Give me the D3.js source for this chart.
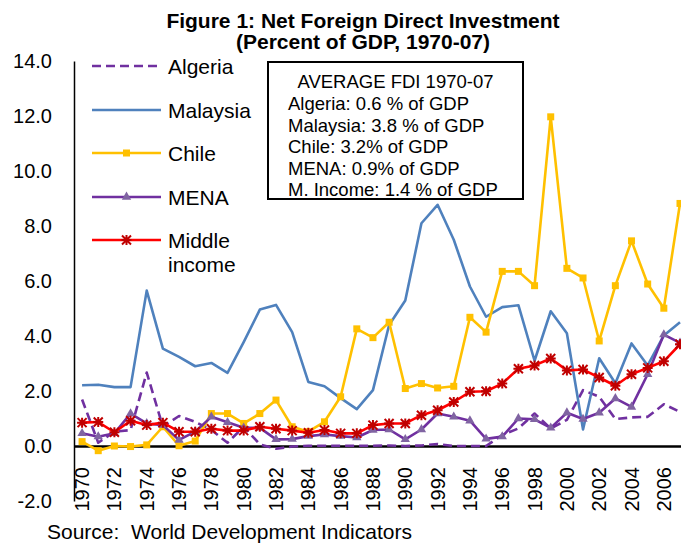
<!DOCTYPE html>
<html>
<head>
<meta charset="utf-8">
<script src="https://cdn.jsdelivr.net/npm/d3@7"></script>
<style>
  body { margin: 0; background: #fff; overflow: hidden; }
  svg { font-family: "Liberation Sans", Arial, sans-serif; }
  text { white-space: pre; }
</style>
</head>
<body>
<div id="chart"></div>
<script>
// data (% of GDP)
const years = d3.range(1970, 2008);
const algeria = [1.69, 0.12, 0.52, 0.58, 2.67, 0.70, 1.09, 0.88, 0.58, 0.12, 0.70, 0.06, -0.10, -0.02, 0.01, 0.01, 0.01, 0.01, 0.01, 0.02, 0.00, 0.02, 0.07, 0.00, 0.00, 0.00, 0.40, 0.64, 1.18, 0.64, 0.95, 2.03, 1.79, 0.98, 1.04, 1.06, 1.52, 1.24];
const malaysia = [2.21, 2.23, 2.14, 2.14, 5.65, 3.54, 3.24, 2.90, 3.02, 2.66, 3.78, 4.96, 5.13, 4.14, 2.33, 2.17, 1.74, 1.34, 2.03, 4.40, 5.29, 8.10, 8.77, 7.50, 5.80, 4.70, 5.05, 5.12, 3.10, 4.90, 4.10, 0.60, 3.19, 2.28, 3.73, 2.93, 4.02, 4.50];
const chile = [0.16, -0.17, 0.00, -0.02, 0.04, 0.70, 0.01, 0.18, 1.18, 1.18, 0.82, 1.18, 1.67, 0.70, 0.52, 0.88, 1.79, 4.26, 3.94, 4.50, 2.09, 2.27, 2.11, 2.17, 4.68, 4.14, 6.35, 6.35, 5.83, 11.97, 6.46, 6.11, 3.82, 5.83, 7.46, 5.89, 5.01, 8.82];
const mena = [0.46, 0.34, 0.46, 1.18, 0.82, 0.76, 0.22, 0.52, 1.06, 0.86, 0.66, 0.66, 0.24, 0.25, 0.36, 0.42, 0.36, 0.31, 0.58, 0.60, 0.24, 0.60, 1.18, 1.06, 0.92, 0.26, 0.34, 1.00, 0.97, 0.66, 1.21, 0.98, 1.21, 1.73, 1.42, 2.61, 4.05, 3.75];
const middleIncome = [0.85, 0.87, 0.50, 0.92, 0.76, 0.85, 0.52, 0.52, 0.63, 0.56, 0.56, 0.70, 0.63, 0.56, 0.48, 0.58, 0.46, 0.46, 0.76, 0.82, 0.82, 1.12, 1.30, 1.60, 1.97, 1.99, 2.27, 2.81, 2.93, 3.18, 2.75, 2.78, 2.49, 2.19, 2.61, 2.84, 3.08, 3.70];

const yTicks = [-2, 0, 2, 4, 6, 8, 10, 12, 14];
const xTickYears = years.filter(d => d % 2 === 0);

const averages = [
  "Algeria: 0.6 % of GDP",
  "Malaysia: 3.8 % of GDP",
  "Chile: 3.2% of GDP",
  "MENA: 0.9% of GDP",
  "M. Income: 1.4 % of GDP"
];

const series = [
  { name: ["Algeria"], values: algeria, color: "#7030A0", dash: "9,5", marker: null },
  { name: ["Malaysia"], values: malaysia, color: "#4F81BD", dash: null, marker: null },
  { name: ["Chile"], values: chile, color: "#FFC000", dash: null, marker: "square" },
  { name: ["MENA"], values: mena, color: "#7030A0", dash: null, marker: "triangle" },
  { name: ["Middle", "income"], values: middleIncome, color: "#FF0000", dash: null, marker: "star" }
];

const width = 681;
const height = 544;
const plot = { left: 74, top: 61, bottom: 501 };

const svg = d3.select("#chart")
  .append("svg")
  .attr("width", width)
  .attr("height", height);

// band scale so each year sits in the middle of its slot (Excel style)
const x = d3.scaleBand()
  .domain(years)
  .range([plot.left, plot.left + 38 * 16.16]);

const y = d3.scaleLinear()
  .domain([-2, 14])
  .range([plot.bottom, plot.top]);

const cx = d => x(d) + x.bandwidth() / 2;

// title
svg.append("text")
  .attr("x", 363)
  .attr("y", 28)
  .attr("text-anchor", "middle")
  .attr("font-weight", "bold")
  .attr("font-size", 21)
  .text("Figure 1: Net Foreign Direct Investment");
svg.append("text")
  .attr("x", 363)
  .attr("y", 49)
  .attr("text-anchor", "middle")
  .attr("font-weight", "bold")
  .attr("font-size", 21)
  .text("(Percent of GDP, 1970-07)");

// y axis
const yAxis = d3.axisLeft(y)
  .tickValues(yTicks)
  .tickSize(0)
  .tickPadding(22)
  .tickFormat(d => d.toFixed(1));

const yAxisGroup = svg.append("g")
  .attr("transform", `translate(${plot.left}, 0)`)
  .call(yAxis);
yAxisGroup.select(".domain").attr("stroke", "#000").attr("stroke-width", 1.5);
yAxisGroup.selectAll("text")
  .attr("font-size", 20)
  .attr("font-family", "Liberation Sans, Arial, sans-serif")
  .attr("fill", "#000");

// x axis sits on zero
const xAxis = d3.axisBottom(x)
  .tickValues(xTickYears)
  .tickSize(0)
  .tickSizeOuter(0);

const xAxisGroup = svg.append("g")
  .attr("transform", `translate(0, ${y(0)})`)
  .call(xAxis);
xAxisGroup.select(".domain").attr("stroke", "#000").attr("stroke-width", 2.5);
xAxisGroup.selectAll("text")
  .attr("transform", "rotate(-90)")
  .attr("x", -21)
  .attr("y", 0)
  .attr("dy", "0.35em")
  .attr("text-anchor", "end")
  .attr("font-size", 20)
  .attr("font-family", "Liberation Sans, Arial, sans-serif")
  .attr("fill", "#000");

// markers
function drawMarker(g, type, px, py) {
  if (type === "square") {
    g.append("rect")
      .attr("x", px - 3.5).attr("y", py - 3.5)
      .attr("width", 7).attr("height", 7)
      .attr("fill", "#FFC000");
  } else if (type === "triangle") {
    g.append("path")
      .attr("d", d3.symbol(d3.symbolTriangle, 38)())
      .attr("transform", `translate(${px}, ${py})`)
      .attr("fill", "#8064A2");
  } else if (type === "star") {
    const r = 4.5;
    g.append("path")
      .attr("d", `M${px - r},${py - r}L${px + r},${py + r}M${px - r},${py + r}L${px + r},${py - r}M${px},${py - r - 0.5}L${px},${py + r + 0.5}M${px - r - 0.5},${py}L${px + r + 0.5},${py}`)
      .attr("stroke", "#C00000")
      .attr("stroke-width", 2)
      .attr("fill", "none");
  }
}

const line = d3.line()
  .x((d, i) => cx(years[i]))
  .y(d => y(d));

series.forEach(s => {
  const g = svg.append("g");
  g.append("path")
    .datum(s.values)
    .attr("d", line)
    .attr("fill", "none")
    .attr("stroke", s.color)
    .attr("stroke-width", 2.6)
    .attr("stroke-linejoin", "round")
    .attr("stroke-dasharray", s.dash);
  if (s.marker) {
    s.values.forEach((v, i) => drawMarker(g, s.marker, cx(years[i]), y(v)));
  }
});

// legend
const legendRows = [66, 110, 153, 197, 240];
series.forEach((s, i) => {
  const g = svg.append("g");
  const ly = legendRows[i];
  g.append("line")
    .attr("x1", 92).attr("x2", 161)
    .attr("y1", ly).attr("y2", ly)
    .attr("stroke", s.color)
    .attr("stroke-width", 2.6)
    .attr("stroke-dasharray", s.dash);
  if (s.marker) drawMarker(g, s.marker, 126.5, ly);
  s.name.forEach((t, j) => {
    g.append("text")
      .attr("x", 168)
      .attr("y", ly + 8 + j * 24)
      .attr("font-size", 21)
      .text(t);
  });
});

// average box
svg.append("rect")
  .attr("x", 268).attr("y", 62)
  .attr("width", 255).attr("height", 137)
  .attr("fill", "#fff")
  .attr("stroke", "#000")
  .attr("stroke-width", 2);

svg.append("text")
  .attr("x", 395.5)
  .attr("y", 88)
  .attr("text-anchor", "middle")
  .attr("font-size", 18.5)
  .text("AVERAGE FDI 1970-07");

svg.selectAll(".avg")
  .data(averages)
  .enter()
  .append("text")
  .attr("class", "avg")
  .attr("x", 288)
  .attr("y", (d, i) => 110 + i * 21.6)
  .attr("font-size", 18.5)
  .text(d => d);

// source
svg.append("text")
  .attr("x", 47)
  .attr("y", 539)
  .attr("font-size", 21)
  .text("Source:  World Development Indicators");
</script>
</body>
</html>
